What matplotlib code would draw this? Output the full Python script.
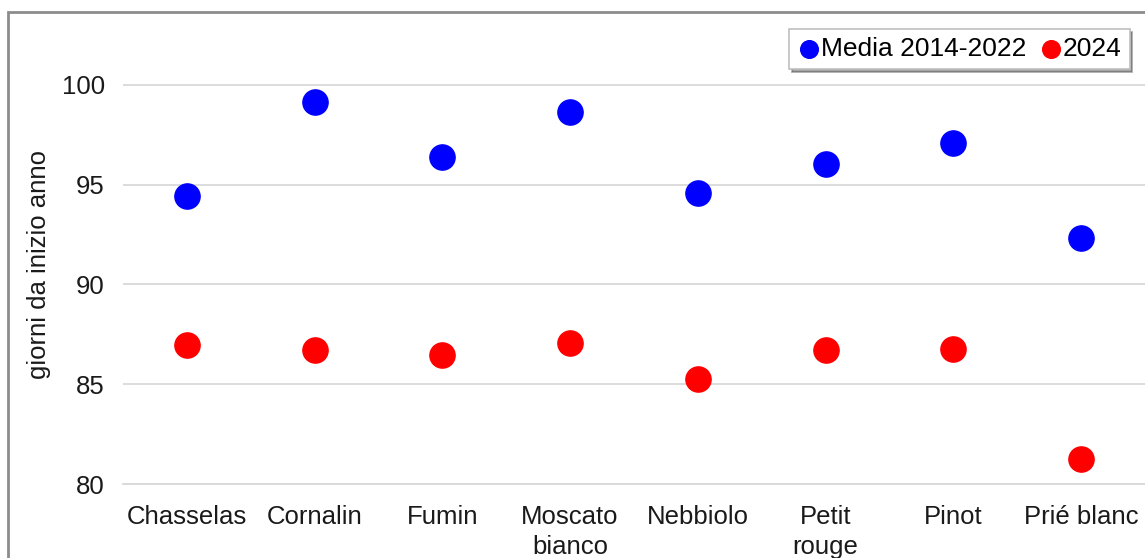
import matplotlib.pyplot as plt
from matplotlib.patches import Rectangle

plt.rcParams['font.family'] = ['Liberation Sans', 'DejaVu Sans']

varieties = ['Chasselas', 'Cornalin', 'Fumin', 'Moscato\nbianco', 'Nebbiolo',
             'Petit\nrouge', 'Pinot', 'Prié blanc']
media_2014_2022 = [94.45, 99.15, 96.4, 98.65, 94.6, 96.05, 97.1, 92.3]
anno_2024 = [86.95, 86.7, 86.45, 87.05, 85.25, 86.7, 86.75, 81.25]

fig = plt.figure(figsize=(11.45, 5.58), dpi=100)
ax = fig.add_axes([0.1074, 0.1326, 0.8926, 0.787])

x = range(len(varieties))
ax.scatter(x, media_2014_2022, s=330, color='#0000ff', label='Media 2014-2022', zorder=3)
ax.scatter(x, anno_2024, s=330, color='#ff0000', label='2024', zorder=3)

ax.set_xlim(-0.5, len(varieties) - 0.5)
ax.set_ylim(80, 102)
ax.set_yticks([80, 85, 90, 95, 100])
ax.set_xticks(list(x))
ax.set_xticklabels(varieties, fontsize=18.5, linespacing=1.3)
ax.tick_params(axis='y', labelsize=18.5, length=0, pad=13, colors='#1a1a1a')
ax.tick_params(axis='x', length=0, pad=15, colors='#1a1a1a')
ax.grid(axis='y', color='#d9d9d9', linewidth=1.3)
ax.set_axisbelow(True)
for side in ['top', 'right', 'left']:
    ax.spines[side].set_visible(False)
ax.spines['bottom'].set_color('#d9d9d9')
ax.spines['bottom'].set_linewidth(1.3)
ax.set_ylabel('giorni da inizio anno', fontsize=18.5, labelpad=8, color='#1a1a1a')

leg = ax.legend(loc='upper right', bbox_to_anchor=(0.985, 1.035), ncol=2, fontsize=19,
                frameon=True, shadow=True, fancybox=False, markerscale=0.7,
                handletextpad=0.0, columnspacing=0.5, borderpad=0.3, handlelength=0.9,
                borderaxespad=0.0)
leg.get_frame().set_edgecolor('#bfbfbf')
leg.get_frame().set_linewidth(1.2)

# outer chart border (cropped on the right and bottom)
fig.patches.append(Rectangle((8 / 1145, -0.05), 1.2, 1.05 - 12 / 558, transform=fig.transFigure,
                             fill=False, edgecolor='#8c8c8c', linewidth=2))

fig.savefig('out.png', dpi=100)
